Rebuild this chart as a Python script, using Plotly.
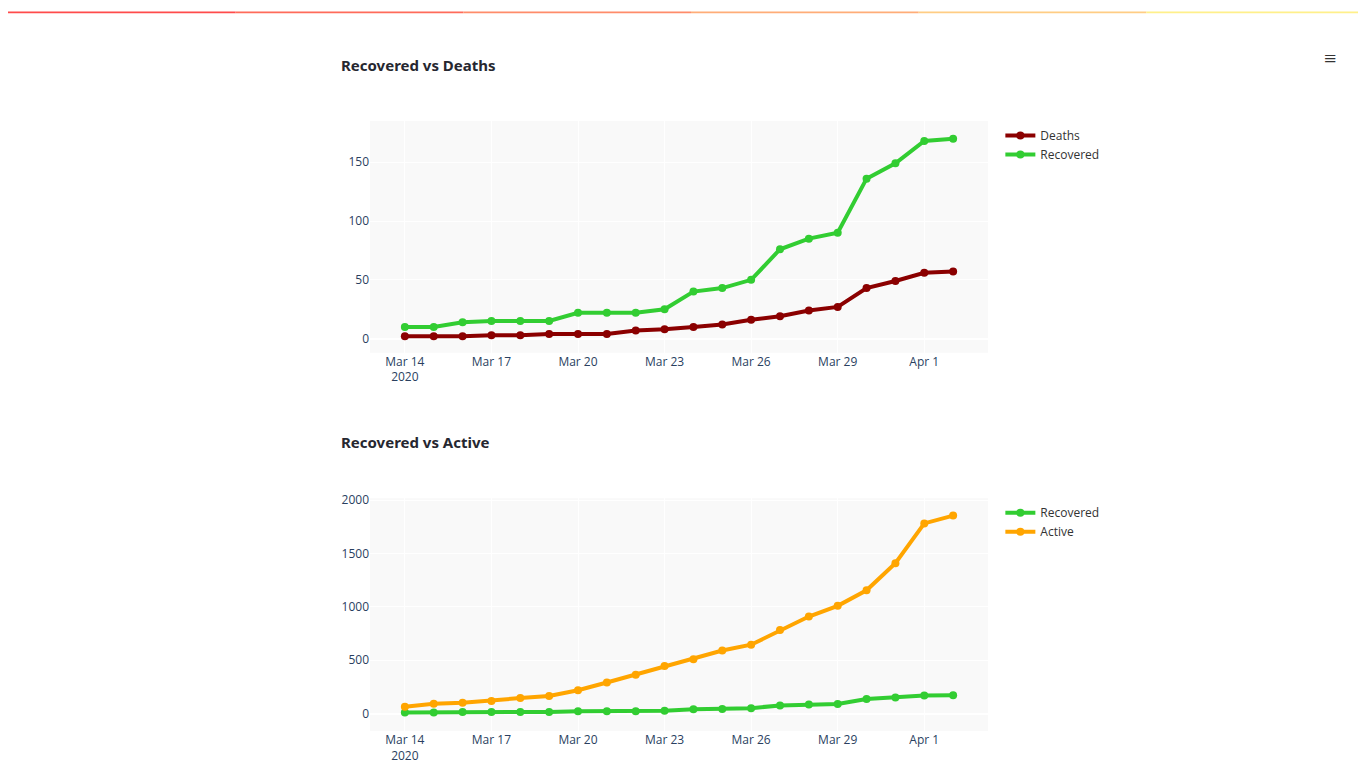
import pandas as pd
import plotly.graph_objects as go
from plotly.subplots import make_subplots

dates = pd.date_range("2020-03-14", "2020-04-02", freq="D")
deaths = [2, 2, 2, 3, 3, 4, 4, 4, 7, 8, 10, 12, 16, 19, 24, 27, 43, 49, 56, 57]
recovered = [10, 10, 14, 15, 15, 15, 22, 22, 22, 25, 40, 43, 50, 76, 85, 90, 136, 149, 168, 170]
active = [64, 91, 100, 118, 145, 164, 218, 291, 364, 445, 509, 591, 645, 782, 909, 1009, 1155, 1409, 1782, 1855]

fig = make_subplots(rows=2, cols=1)
line = dict(width=4)
fig.add_trace(go.Scatter(x=dates, y=deaths, name="Deaths", mode="lines+markers",
                         line=dict(color="#8b0000", **line), marker=dict(size=8), legend="legend"), 1, 1)
fig.add_trace(go.Scatter(x=dates, y=recovered, name="Recovered", mode="lines+markers",
                         line=dict(color="#32cd32", **line), marker=dict(size=8), legend="legend"), 1, 1)
fig.add_trace(go.Scatter(x=dates, y=recovered, name="Recovered", mode="lines+markers",
                         line=dict(color="#32cd32", **line), marker=dict(size=8), legend="legend2"), 2, 1)
fig.add_trace(go.Scatter(x=dates, y=active, name="Active", mode="lines+markers",
                         line=dict(color="#ffa500", **line), marker=dict(size=8), legend="legend2"), 2, 1)

xr = ["2020-03-12 19:00", "2020-04-03 05:00"]
for ax in ("xaxis", "xaxis2"):
    fig.layout[ax].update(range=xr, dtick=3 * 86400000, tick0="2020-03-14",
                          gridcolor="white", showline=False, zeroline=False)
fig.update_layout(
    xaxis=dict(anchor="y"), xaxis2=dict(anchor="y2"),
    yaxis=dict(domain=[0.62, 1.0], range=[-12, 185], gridcolor="white", zerolinecolor="white", zerolinewidth=2),
    yaxis2=dict(domain=[0.0, 0.3816], range=[-164, 2018], gridcolor="white", zerolinecolor="white", zerolinewidth=2),
)

fig.update_layout(
    width=1366, height=768,
    margin=dict(l=362, r=386, t=113, b=26),
    paper_bgcolor="white", plot_bgcolor="#f9f9f9",
    font=dict(family="Open Sans", size=12, color="#2a3f5f"),
    legend=dict(x=1.02, y=1.0, yanchor="top", font=dict(color="#333")),
    legend2=dict(x=1.02, y=0.3816, yanchor="top", font=dict(color="#333")),
)

for txt, ypx in [("Recovered vs Deaths", 55), ("Recovered vs Active", 444)]:
    fig.add_annotation(text="<b>" + txt + "</b>", xref="paper", yref="paper",
                       x=(331 - 362) / 618, xanchor="left",
                       y=(742 - ypx) / 629, yanchor="middle", showarrow=False,
                       font=dict(family="Noto Sans", size=15, color="#262730"))

fig.add_annotation(text="≡", xref="paper", yref="paper", x=(1330 - 362) / 618, y=(742 - 29) / 629,
                   showarrow=False, font=dict(size=22, color="#333"))

# top gradient bar
cols = ["#ff4b4b", "#ff6b5a", "#ff8c6a", "#ffad78", "#ffcd84", "#fff08a"]
n = len(cols)
for i, c in enumerate(cols):
    fig.add_shape(type="rect", xref="paper", yref="paper",
                  x0=(-362 + 1366 * i / n) / 618, x1=(-362 + 1366 * (i + 1) / n) / 618,
                  y0=(742 - 2) / 629, y1=742 / 629, fillcolor=c, line_width=0, layer="above")
# scrollbar
fig.add_shape(type="rect", xref="paper", yref="paper", x0=(1360 - 362) / 618, x1=(1365 - 362) / 618,
              y0=(742 - 340) / 629, y1=(742 - 166) / 629, fillcolor="#999", line_width=0)

fig.write_html("out.html")
